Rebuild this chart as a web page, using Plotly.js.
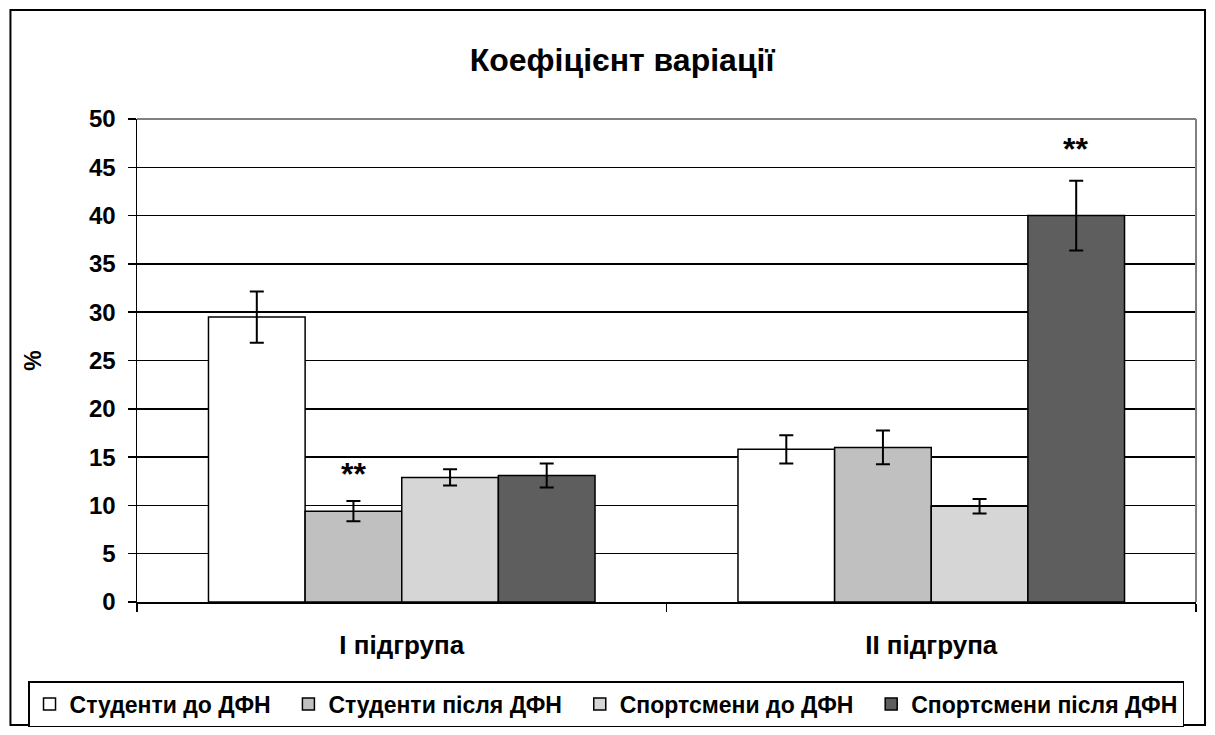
<!DOCTYPE html>
<html>
<head>
<meta charset="utf-8">
<script src="https://cdn.plot.ly/plotly-3.0.1.min.js"></script>
<style>html,body{margin:0;padding:0;background:#fff;}#chart{width:1215px;height:735px;}</style>
</head>
<body>
<div id="chart"></div>
<script>
const categories = ["І підгрупа", "ІІ підгрупа"];
const seriesNames = ["Студенти до ДФН", "Студенти після ДФН", "Спортсмени до ДФН", "Спортсмени після ДФН"];
const studentsBefore = [29.5, 15.8];
const studentsAfter = [9.4, 16.0];
const athletesBefore = [12.9, 9.9];
const athletesAfter = [13.1, 40.0];
const errStudentsBefore = [2.65, 1.45];
const errStudentsAfter = [1.05, 1.75];
const errAthletesBefore = [0.85, 0.75];
const errAthletesAfter = [1.25, 3.6];
const yTicks = [0, 5, 10, 15, 20, 25, 30, 35, 40, 45, 50];

const fontFamily = "Liberation Sans, Arial, sans-serif";
const values = [studentsBefore, studentsAfter, athletesBefore, athletesAfter];
const errs = [errStudentsBefore, errStudentsAfter, errAthletesBefore, errAthletesAfter];
const fills = ["#ffffff", "#c0c0c0", "#d6d6d6", "#5e5e5e"];
const legendPad = "\u00A0\u00A0";

const traces = values.map((v, i) => ({
  type: "bar",
  name: "<b>" + seriesNames[i] + "</b>" + (i < values.length - 1 ? legendPad : ""),
  x: categories,
  y: v,
  marker: { color: fills[i], line: { color: "#000", width: 1.5 } },
  error_y: { type: "data", array: errs[i], visible: true, color: "#000", thickness: 2, width: 7 }
}));

const layout = {
  width: 1215, height: 735,
  margin: { l: 137, r: 19, t: 119, b: 133, autoexpand: false },
  paper_bgcolor: "#fff", plot_bgcolor: "#fff",
  font: { family: fontFamily, color: "#000" },
  barmode: "group", bargap: 0.27, bargroupgap: 0,
  showlegend: true,
  title: { text: "<b>Коефіцієнт варіації</b>", font: { size: 32, family: fontFamily, color: "#000" },
           x: 0.512, xanchor: "center", y: 0.918, yanchor: "middle", xref: "container", yref: "container" },
  xaxis: {
    type: "category", showline: true, linecolor: "#000", linewidth: 1.5,
    ticks: "outside", tickson: "boundaries", ticklen: 8, tickcolor: "#000", tickwidth: 1.5,
    tickfont: { size: 26, family: fontFamily, color: "#000" },
    tickprefix: "<b>", ticksuffix: "</b>",
    ticklabelstandoff: 19, showgrid: false, zeroline: false, fixedrange: true
  },
  yaxis: {
    range: [0, 50], tickvals: yTicks, ticktext: yTicks.map(t => "<b>" + t + "</b>"),
    showline: true, linecolor: "#000", linewidth: 1.5,
    ticks: "outside", ticklen: 8, tickcolor: "#000", tickwidth: 1.5,
    tickfont: { size: 24, family: fontFamily, color: "#000" },
    ticklabelstandoff: 7,
    showgrid: true, gridcolor: "#000", gridwidth: 1.5, zeroline: false,
    title: { text: "<b>%</b>", font: { size: 23, family: fontFamily, color: "#000" }, standoff: 41 },
    fixedrange: true
  },
  legend: {
    orientation: "h", x: -0.1029, xanchor: "left", y: -0.1636, yanchor: "top",
    bordercolor: "#000", borderwidth: 1.5, bgcolor: "#fff",
    font: { size: 23, family: fontFamily, color: "#000" },
    traceorder: "normal"
  },
  annotations: [
    { x: categories[0], y: 13.3, xref: "x", yref: "y", text: "<b>**</b>", showarrow: false, xshift: -48,
      font: { size: 32, family: fontFamily, color: "#000" } },
    { x: categories[1], y: 46.9, xref: "x", yref: "y", text: "<b>**</b>", showarrow: false, xshift: 144,
      font: { size: 32, family: fontFamily, color: "#000" } }
  ],
  shapes: [
    { type: "line", xref: "paper", yref: "paper", x0: 0, x1: 1, y0: 1, y1: 1, line: { color: "#808080", width: 2 }, layer: "above" },
    { type: "line", xref: "paper", yref: "paper", x0: 1, x1: 1, y0: 0, y1: 1, line: { color: "#808080", width: 2 }, layer: "above" },
    { type: "rect", xref: "paper", yref: "paper", x0: -0.1195, x1: 1.0085, y0: -0.2547, y1: 1.2257, line: { color: "#000", width: 2 }, layer: "below" }
  ]
};

Plotly.newPlot("chart", traces, layout, { displayModeBar: false, staticPlot: true });
</script>
</body>
</html>
